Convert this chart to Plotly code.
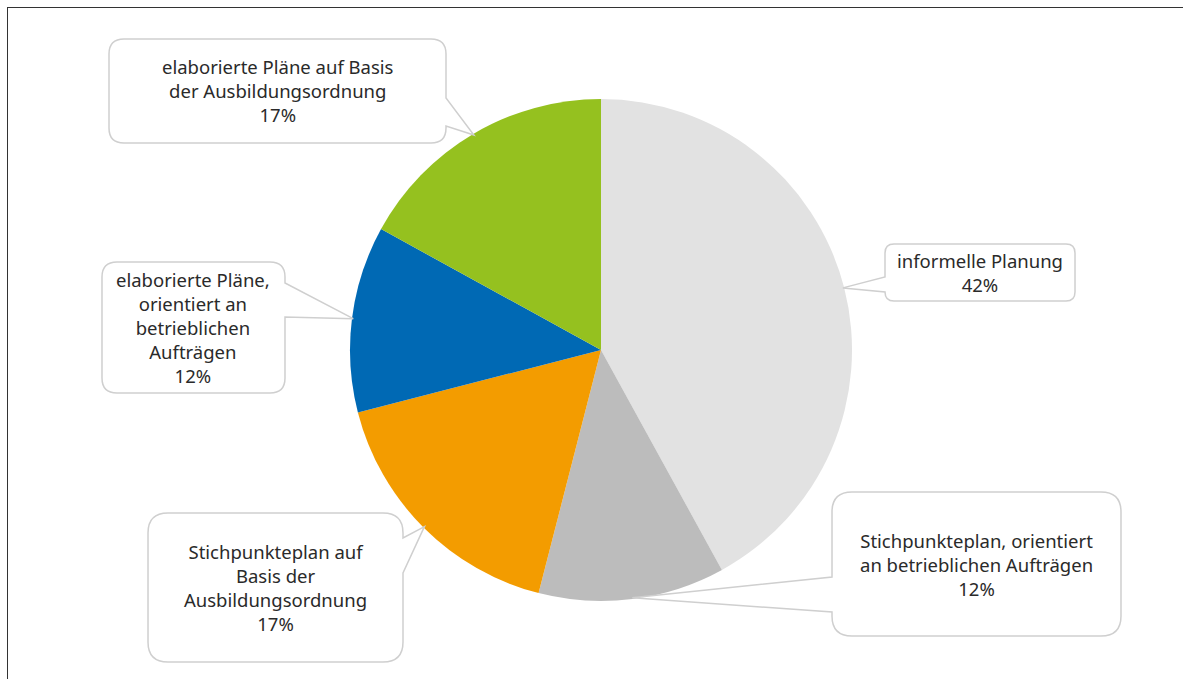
import math
import plotly.graph_objects as go

# ---------------- data ----------------
categories = [
    "informelle Planung",
    "Stichpunkteplan, orientiert an betrieblichen Aufträgen",
    "Stichpunkteplan auf Basis der Ausbildungsordnung",
    "elaborierte Pläne, orientiert an betrieblichen Aufträgen",
    "elaborierte Pläne auf Basis der Ausbildungsordnung",
]
values = [42, 12, 17, 12, 17]
callout_texts = [
    "informelle Planung",
    "Stichpunkteplan, orientiert<br>an betrieblichen Aufträgen",
    "Stichpunkteplan auf<br>Basis der<br>Ausbildungsordnung",
    "elaborierte Pläne,<br>orientiert an<br>betrieblichen<br>Aufträgen",
    "elaborierte Pläne auf Basis<br>der Ausbildungsordnung",
]
colors = ["#e2e2e2", "#bcbcbc", "#f39c00", "#0069b4", "#95c11f"]

# ---------------- layout geometry (pixels) ----------------
W, H = 1183, 679
CX, CY, R = 601, 350, 251

# box: (x0, y0, x1, y1, corner radius, side of pointer, pointer start, pointer end)
boxes = [
    (885, 244, 1075, 301, 9, "left", 277, 292),
    (832, 492, 1121, 636, 20, "left", 577, 612),
    (148, 513, 403, 662, 20, "right", 538, 573),
    (102, 262, 285, 393, 15, "right", 283, 317),
    (109, 39, 446, 143, 15, "right", 98, 126),
]


def px(x):
    return x / W


def py(y):
    return 1 - y / H


def P(x, y):
    return f"{px(x):.5f},{py(y):.5f}"


def box_path(x0, y0, x1, y1, r, side, w0, w1, tx, ty):
    p = f"M{P(x0 + r, y0)} L{P(x1 - r, y0)} Q{P(x1, y0)} {P(x1, y0 + r)}"
    if side == "right":
        p += f" L{P(x1, w0)} L{P(tx, ty)} L{P(x1, w1)}"
    p += f" L{P(x1, y1 - r)} Q{P(x1, y1)} {P(x1 - r, y1)}"
    p += f" L{P(x0 + r, y1)} Q{P(x0, y1)} {P(x0, y1 - r)}"
    if side == "left":
        p += f" L{P(x0, w1)} L{P(tx, ty)} L{P(x0, w0)}"
    p += f" L{P(x0, y0 + r)} Q{P(x0, y0)} {P(x0 + r, y0)} Z"
    return p


fig = go.Figure()
fig.add_trace(go.Pie(
    labels=categories,
    values=values,
    sort=False,
    direction="clockwise",
    rotation=0,
    marker=dict(colors=colors, line=dict(width=0)),
    textinfo="none",
    hoverinfo="label+percent",
    showlegend=False,
    domain=dict(x=[(CX - R) / W, (CX + R) / W], y=[(H - CY - R) / H, (H - CY + R) / H]),
))

shapes = []
annotations = []
total = sum(values)
cum = 0
for i, v in enumerate(values):
    mid = (cum + v / 2) / total * 2 * math.pi
    cum += v
    tx = CX + R * 0.995 * math.sin(mid)
    ty = CY - R * 0.995 * math.cos(mid)
    x0, y0, x1, y1, r, side, w0, w1 = boxes[i]
    shapes.append(dict(
        type="path", xref="paper", yref="paper",
        path=box_path(x0, y0, x1, y1, r, side, w0, w1, tx, ty),
        fillcolor="white", line=dict(color="#cfcfcf", width=1.5), layer="above",
    ))
    pct = round(v / total * 100)
    annotations.append(dict(
        xref="paper", yref="paper",
        x=px((x0 + x1) / 2), y=py((y0 + y1) / 2),
        xanchor="center", yanchor="middle",
        text=f"{callout_texts[i]}<br>{pct}%",
        showarrow=False, align="center",
        font=dict(family="Noto Sans", size=18.5, color="#2a2a2a"),
    ))

# frame lines (top and left)
shapes.append(dict(type="line", xref="paper", yref="paper",
                   x0=px(7), x1=1, y0=py(7.5), y1=py(7.5),
                   line=dict(color="#333333", width=1)))
shapes.append(dict(type="line", xref="paper", yref="paper",
                   x0=px(7.5), x1=px(7.5), y0=py(7), y1=0,
                   line=dict(color="#333333", width=1)))

fig.update_layout(
    width=W, height=H,
    margin=dict(l=0, r=0, t=0, b=0),
    paper_bgcolor="white", plot_bgcolor="white",
    shapes=shapes, annotations=annotations,
    showlegend=False,
)

fig.write_html(
    "out.html",
    config={"displayModeBar": False},
    post_script="document.body.style.margin='0';document.body.style.overflow='hidden';",
)
